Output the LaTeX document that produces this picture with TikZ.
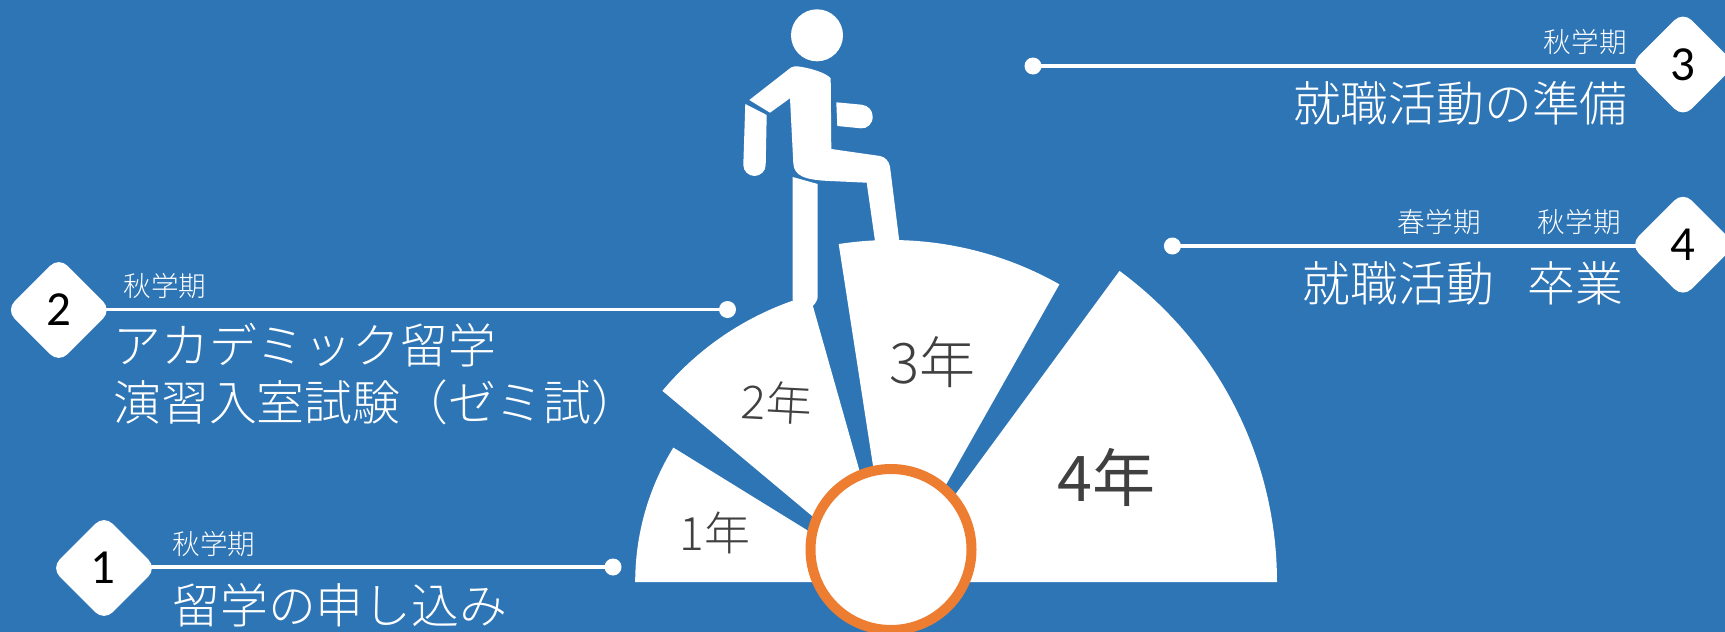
\documentclass[tikz,border=0pt]{standalone}
\usepackage{fontspec}
\usetikzlibrary{shapes.geometric,backgrounds}
\newfontfamily\jp{Noto Sans CJK JP Light}
\newfontfamily\jpreg{Noto Sans CJK JP}
\setmainfont{Carlito}
\definecolor{bgblue}{HTML}{2E75B6}
\definecolor{ringorange}{HTML}{ED7D31}
\definecolor{yeargray}{HTML}{404040}
\newcommand{\jsize}[1]{\jp\fontsize{#1}{#1}\selectfont}
\tikzset{
  x=0.5pt,y=-0.5pt,
  wedge/.style={fill=white,draw=none},
  body/.style={fill=white,draw=none},
  badge/.style={diamond,aspect=1,fill=white,draw=none,rounded corners=6pt,minimum size=53pt,inner sep=0pt,
    text=black,font=\fontsize{24.5}{28}\selectfont},
  enddot/.style={circle,fill=white,draw=none,minimum size=8.5pt,inner sep=0pt},
  link/.style={draw=white,line width=1.8pt},
  term/.style={text=white,inner sep=0pt,font=\jsize{13.8}},
  task/.style={text=white,inner sep=0pt,font=\jsize{23.9}},
  yearlab/.style={text=yeargray,inner sep=0pt},
}
\begin{document}
\begin{tikzpicture}
\useasboundingbox (0,0) rectangle (1725,632);
\begin{scope}[on background layer]
\fill[bgblue] (0,0) rectangle (1725,632);
\end{scope}
\coordinate (c) at (891,582);
% sectors
\fill[wedge] (c) -- ++(148.3:127.9pt) arc[start angle=148.3,end angle=180,radius=127.9pt] -- cycle;
\fill[wedge] (c) -- ++(105.8:149pt) arc[start angle=105.8,end angle=140.1,radius=149pt] -- cycle;
\fill[wedge] (c) -- ++(60.5:171pt) arc[start angle=60.5,end angle=98.8,radius=171pt] -- cycle;
\fill[wedge] (c) -- ++(0:193pt) arc[start angle=0,end angle=53.7,radius=193pt] -- cycle;
% hub
\node[circle,fill=white,draw=ringorange,line width=5pt,minimum size=80.5pt,inner sep=0pt,outer sep=0pt] (hub) at (891,549.5) {};
% person
\fill[body] (817,35.3) circle[radius=13pt];
\fill[body] (749.3,100) -- (791,67.5) .. controls (793,66) and (796,66) .. (800,66.7)
  .. controls (812,68.5) and (826,73) .. (830.7,78.3)
  -- (831.3,149) -- (880,156) .. controls (885,157) and (889,161) .. (890,166.7)
  -- (899.3,241) -- (875,241) -- (866.7,182.7) -- (830,181)
  .. controls (805,180) and (794,176) .. (793.3,163.3)
  -- (790,98.3) -- (770,112.7) -- cycle;
\fill[body] (745.3,104) -- (766.7,115) -- (765.7,165)
  .. controls (765.7,171) and (760.5,176) .. (754.5,176)
  .. controls (748.5,176) and (743.3,171) .. (743.3,165) -- cycle;
\fill[body] (836.3,102.3) -- (861.7,104.7)
  .. controls (868,105.5) and (872.7,110) .. (872.7,116.7)
  .. controls (872.7,124) and (867,129) .. (860.7,128.3)
  -- (837.3,126) -- cycle;
\fill[body] (792.7,177) -- (817.7,184) -- (817.7,296.7)
  .. controls (817.7,300) and (815,304) .. (812.7,306)
  -- (800,310) -- (792.7,300) -- cycle;
% badges and end dots
\node[badge] (d1) at (104,568) {\raisebox{-0.5pt}{\kern-1.5pt 1}};
\node[badge] (d2) at (58.8,310) {2};
\node[badge] (d3) at (1683,64.5) {3};
\node[badge] (d4) at (1683,244.7) {4};
\node[enddot] (e1) at (613,567) {};
\node[enddot] (e2) at (727.5,309.5) {};
\node[enddot] (e3) at (1033,66) {};
\node[enddot] (e4) at (1172.4,246) {};
\begin{scope}[on background layer]
\draw[link] (d1.center |- e1) -- (e1.center);
\draw[link] (d2.center |- e2) -- (e2.center);
\draw[link] (d3.center |- e3) -- (e3.center);
\draw[link] (d4.center |- e4) -- (e4.center);
\end{scope}
% terms
\node[term,anchor=base west] (t1) at (172,554) {秋学期};
\node[term,anchor=base west] (t2) at (123,296) {秋学期};
\node[term,anchor=base east] (t3) at (1627,52.5) {秋学期};
\node[term,anchor=base east] (t4b) at (1621,232.5) {秋学期};
\node[term,anchor=base east] (t4a) at (1481,232.5) {春学期};
% tasks
\node[task,anchor=base west] (k1) at (172,623) {留学の申し込み};
\node[task,anchor=west,align=left,font=\jp\fontsize{23.9}{28.5}\selectfont] (k2) at (113,374.5) {アカデミック留学\\ 演習入室試験（ゼミ試）};
\node[task,anchor=base east] (k3) at (1628,121) {就職活動の準備};
\node[task,anchor=base east] (k4) at (1624,301) {就職活動\hspace{17pt}卒業};
% year labels
\node[yearlab,font=\jsize{23}] (y1) at (715,533) {1年};
\node[yearlab,font=\jsize{23},rotate=-3] (y2) at (777,403) {2年};
\node[yearlab,font=\jsize{28}] (y3) at (932.5,362) {3年};
\node[yearlab,font=\jpreg\fontsize{31.5}{31.5}\selectfont] (y4) at (1106.5,477) {4年};
\end{tikzpicture}
\end{document}
